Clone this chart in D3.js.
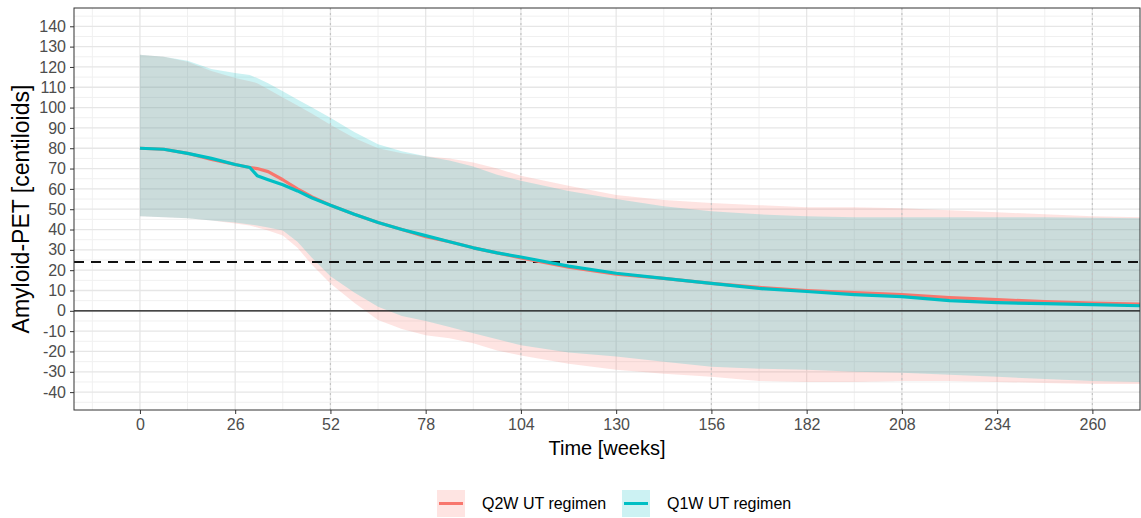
<!DOCTYPE html>
<html>
<head>
<meta charset="utf-8">
<script src="https://cdn.jsdelivr.net/npm/d3@7"></script>
<style>
  body { margin: 0; background: #fff; }
  text { font-family: "Liberation Sans", Arial, sans-serif; }
</style>
</head>
<body>
<div id="chart"></div>
<script>
// weeks sampled along the curves
var weeks = [0, 6.5, 13, 19.5, 26, 30, 32, 35, 39, 43, 47, 52, 58.5, 65, 71.5, 78, 84.5, 91, 97.5, 104,
             117, 130, 143, 156, 169, 182, 195, 208, 221, 234, 247, 260, 273];

var q2wMean  = [80, 79.5, 77.5, 74.5, 72, 70.5, 70, 68.5, 64.5, 60, 56, 52, 47.5, 43.5, 40, 36.5, 34, 31, 28.5, 26,
                21.5, 18, 16, 13.5, 11.5, 10, 9, 8, 6.5, 5.5, 4.5, 3.8, 3.3];
var q2wUpper = [126, 125, 122.5, 118, 114.5, 113, 112, 109, 105, 101, 97, 91.5, 85, 80, 77.5, 76, 75, 73, 70, 66.5,
                61.5, 57, 54.5, 53, 52, 51, 51, 50.5, 49.5, 48.5, 47.5, 46.5, 46];
var q2wLower = [46.5, 46, 45.5, 44.5, 43, 42, 41, 39.5, 37, 31, 22.5, 13.5, 4, -4.5, -9, -12, -13.5, -16, -19.5, -22,
                -26, -29, -31, -32.5, -34.5, -35, -35, -34.5, -34.5, -35, -35.5, -36, -36];

var q1wMean  = [80, 79.5, 77.5, 75, 72, 70.5, 66.5, 64.5, 62, 59, 55.5, 52, 47.5, 43.5, 40, 37, 34, 31, 28.5, 26.5,
                22, 18.5, 16, 13.5, 11, 9.5, 8, 7, 5, 4, 3.5, 3, 2.5];
var q1wUpper = [126, 125, 123, 119, 117, 116, 114.5, 112, 108, 104, 100, 95, 88, 82, 78.5, 76, 74, 71, 67, 64,
                59, 55, 51.5, 49, 47.5, 46.5, 46, 46, 46, 46, 46, 45.8, 45.5];
var q1wLower = [46.5, 46, 45.5, 44.5, 43.5, 42.5, 42, 41, 39.5, 34, 26, 17, 9, 2, -2.5, -5, -8, -11, -14, -17,
                -20.5, -22.5, -25, -27.5, -28.5, -29, -30, -30.5, -31.5, -32.5, -33.5, -34.5, -35];

var seriesNames = ["Q2W UT regimen", "Q1W UT regimen"];
var seriesColors = ["#F8766D", "#00BFC4"];
var xTicks = [0, 26, 52, 78, 104, 130, 156, 182, 208, 234, 260];
var yTicks = d3.range(-40, 141, 10);
var refLines = [52, 104, 156, 208, 260];
var threshold = 24;

var W = 1141, H = 518;
var margin = {top: 8, right: 1, bottom: 108, left: 74};
var width = W - margin.left - margin.right,
    height = H - margin.top - margin.bottom;

var x = d3.scaleLinear().domain([-18, 273]).range([0, width]);
var y = d3.scaleLinear().domain([-48.8, 149]).range([height, 0]);

var svg = d3.select("#chart").append("svg")
    .attr("width", W)
    .attr("height", H);

var g = svg.append("g")
    .attr("transform", "translate(" + margin.left + "," + margin.top + ")");

// grid
var xMinor = xTicks.map(function(d) { return d + 13; }).concat([-13]).filter(function(d) { return d > -18 && d < 273; });
var yMinor = yTicks.map(function(d) { return d + 5; }).concat([-45]);

g.selectAll(".gx-minor").data(xMinor).enter().append("line")
    .attr("x1", function(d) { return x(d); }).attr("x2", function(d) { return x(d); })
    .attr("y1", 0).attr("y2", height)
    .attr("stroke", "#f0f0f0").attr("stroke-width", 1);
g.selectAll(".gy-minor").data(yMinor).enter().append("line")
    .attr("y1", function(d) { return y(d); }).attr("y2", function(d) { return y(d); })
    .attr("x1", 0).attr("x2", width)
    .attr("stroke", "#f0f0f0").attr("stroke-width", 1);
g.selectAll(".gx").data(xTicks).enter().append("line")
    .attr("x1", function(d) { return x(d); }).attr("x2", function(d) { return x(d); })
    .attr("y1", 0).attr("y2", height)
    .attr("stroke", "#e6e6e6").attr("stroke-width", 1.3);
g.selectAll(".gy").data(yTicks).enter().append("line")
    .attr("y1", function(d) { return y(d); }).attr("y2", function(d) { return y(d); })
    .attr("x1", 0).attr("x2", width)
    .attr("stroke", "#e6e6e6").attr("stroke-width", 1.3);

// ribbons
var bands = [
  {lower: q2wLower, upper: q2wUpper, color: seriesColors[0]},
  {lower: q1wLower, upper: q1wUpper, color: seriesColors[1]}
];
var area = d3.area()
    .x(function(d) { return x(d.w); })
    .y0(function(d) { return y(d.lo); })
    .y1(function(d) { return y(d.hi); });

bands.forEach(function(b) {
  var pts = weeks.map(function(w, i) { return {w: w, lo: b.lower[i], hi: b.upper[i]}; });
  g.append("path")
      .attr("d", area(pts))
      .attr("fill", b.color)
      .attr("fill-opacity", 0.2);
});

// reference lines
g.selectAll(".ref").data(refLines).enter().append("line")
    .attr("x1", function(d) { return x(d); }).attr("x2", function(d) { return x(d); })
    .attr("y1", 0).attr("y2", height)
    .attr("stroke", "#c4c4c4").attr("stroke-width", 1.2)
    .attr("stroke-dasharray", "2,3");

g.append("line")
    .attr("x1", 0).attr("x2", width)
    .attr("y1", y(threshold)).attr("y2", y(threshold))
    .attr("stroke", "#111").attr("stroke-width", 2)
    .attr("stroke-dasharray", "10,7");

g.append("line")
    .attr("x1", 0).attr("x2", width)
    .attr("y1", y(0)).attr("y2", y(0))
    .attr("stroke", "#111").attr("stroke-width", 1.3);

// mean lines
var line = d3.line()
    .x(function(d) { return x(d.w); })
    .y(function(d) { return y(d.v); });

[q2wMean, q1wMean].forEach(function(m, k) {
  g.append("path")
      .attr("d", line(weeks.map(function(w, i) { return {w: w, v: m[i]}; })))
      .attr("fill", "none")
      .attr("stroke", seriesColors[k])
      .attr("stroke-width", 3.2)
      .attr("stroke-linejoin", "round");
});

// panel border
g.append("rect")
    .attr("width", width).attr("height", height)
    .attr("fill", "none").attr("stroke", "#333").attr("stroke-width", 1);

// axes (plain hyphen for negatives, like R)
var fmt = function(d) { return String(d); };
var xAxis = g.append("g")
    .attr("transform", "translate(0," + height + ")")
    .call(d3.axisBottom(x).tickValues(xTicks).tickFormat(fmt).tickSize(4).tickPadding(5));
var yAxis = g.append("g")
    .call(d3.axisLeft(y).tickValues(yTicks).tickFormat(fmt).tickSize(4).tickPadding(4));

[xAxis, yAxis].forEach(function(a) {
  a.select(".domain").remove();
  a.selectAll(".tick line").attr("stroke", "#333").attr("stroke-width", 1);
  a.selectAll(".tick text").attr("fill", "#4d4d4d").style("font-size", "16px");
});

svg.append("text")
    .attr("x", margin.left + width / 2)
    .attr("y", 455)
    .attr("text-anchor", "middle")
    .style("font-size", "20px")
    .attr("fill", "#000")
    .text("Time [weeks]");

svg.append("text")
    .attr("transform", "translate(29," + (margin.top + height / 2) + ") rotate(-90)")
    .attr("text-anchor", "middle")
    .style("font-size", "23px")
    .attr("fill", "#000")
    .text("Amyloid-PET [centiloids]");

// legend
var legend = svg.append("g");
var legX = [437, 622];
seriesNames.forEach(function(name, k) {
  var lg = legend.append("g").attr("transform", "translate(" + legX[k] + ",490)");
  lg.append("rect").attr("width", 28).attr("height", 27)
      .attr("fill", seriesColors[k]).attr("fill-opacity", 0.2);
  lg.append("line").attr("x1", 2).attr("x2", 26).attr("y1", 13.5).attr("y2", 13.5)
      .attr("stroke", seriesColors[k]).attr("stroke-width", 3);
  lg.append("text").attr("x", 45).attr("y", 19)
      .style("font-size", "16px").attr("fill", "#000")
      .text(name);
});
</script>
</body>
</html>
